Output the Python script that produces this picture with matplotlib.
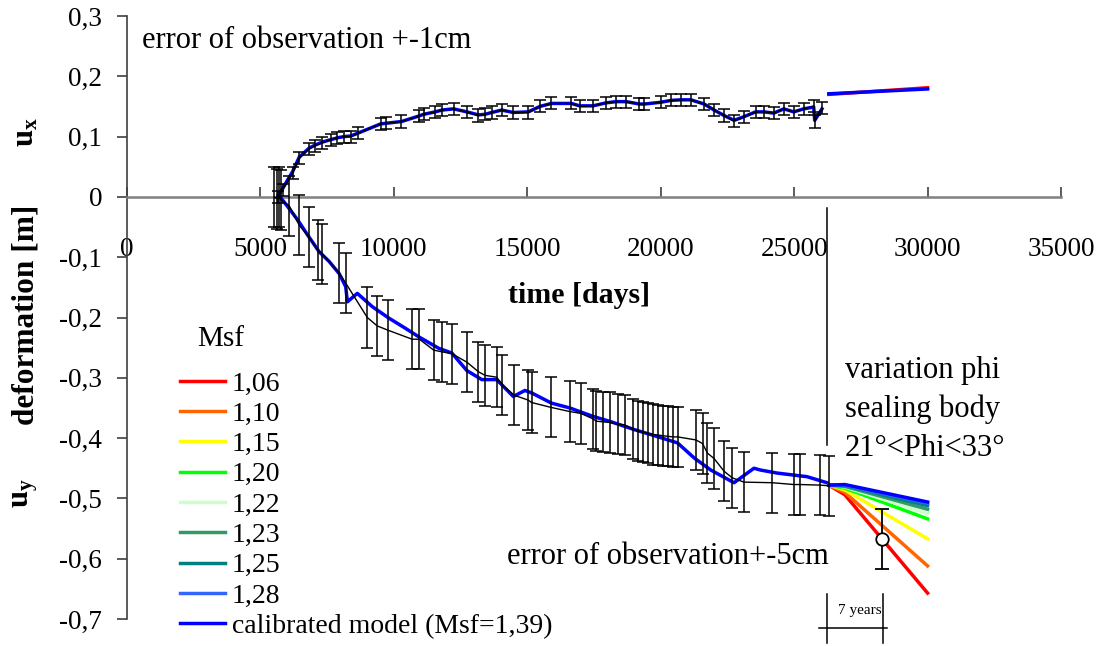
import matplotlib
matplotlib.use('Agg')
import matplotlib.pyplot as plt

plt.rcParams['font.family'] = ['Liberation Serif', 'DejaVu Serif']
plt.rcParams['mathtext.fontset'] = 'custom'
plt.rcParams['mathtext.rm'] = 'Liberation Serif'
plt.rcParams['mathtext.bf'] = 'Liberation Serif:bold'

# --- observed horizontal displacement u_x (error +-1cm)
ux_t = [5646, 5833, 6206, 6455, 6828, 7052, 7326, 7637, 7886, 8134, 8383, 8669, 9502, 9688,
        10286, 10932, 11118, 11553, 11802, 12238, 12735, 13170, 13419, 13668, 14041, 14476,
        15036, 15472, 15906, 16652, 16964, 17461, 17958, 18331, 18704, 19203, 19390, 20010,
        20383, 20756, 21129, 21629, 22002, 22375, 22748, 23121, 23555, 23867, 24240, 24613,
        24986, 25359, 25733, 25770, 26043]
ux_obs = [0.000, 0.012, 0.040, 0.064, 0.080, 0.085, 0.090, 0.095, 0.098, 0.100, 0.100, 0.106,
          0.121, 0.122, 0.125, 0.134, 0.137, 0.141, 0.144, 0.146, 0.141, 0.135, 0.137, 0.140,
          0.144, 0.140, 0.140, 0.150, 0.155, 0.155, 0.150, 0.151, 0.156, 0.158, 0.158, 0.154,
          0.154, 0.157, 0.160, 0.161, 0.161, 0.154, 0.144, 0.135, 0.126, 0.133, 0.141, 0.141,
          0.139, 0.146, 0.141, 0.146, 0.150, 0.125, 0.147]
ux_model = [0.000, 0.014, 0.042, 0.066, 0.081, 0.086, 0.091, 0.095, 0.098, 0.100, 0.101, 0.106,
            0.121, 0.122, 0.125, 0.134, 0.137, 0.141, 0.144, 0.146, 0.141, 0.136, 0.137, 0.140,
            0.144, 0.140, 0.141, 0.150, 0.155, 0.155, 0.151, 0.151, 0.156, 0.158, 0.158, 0.154,
            0.154, 0.157, 0.160, 0.161, 0.161, 0.154, 0.144, 0.135, 0.127, 0.133, 0.141, 0.141,
            0.139, 0.146, 0.141, 0.146, 0.149, 0.127, 0.146]

# --- observed vertical displacement u_y (error +-5cm)
uy_t = [5522, 5609, 5683, 5771, 6082, 6455, 6828, 7139, 7326, 7947, 8197, 9004, 9377, 9776,
        10683, 10957, 11491, 11802, 12175, 12735, 13170, 13419, 13854, 14066, 14514, 15036,
        15161, 15884, 16593, 17003, 17461, 17586, 17834, 18084, 18394, 18644, 18953, 19140,
        19327, 19513, 19700, 19886, 20073, 20259, 20446, 20632, 21317, 21566, 21752, 22002,
        22375, 22685, 23121, 24178, 24986, 25234, 25980, 26291]
uy_obs = [0.000, -0.003, 0.000, -0.005, -0.015, -0.047, -0.067, -0.088, -0.095, -0.126, -0.143,
          -0.200, -0.214, -0.221, -0.236, -0.236, -0.254, -0.257, -0.260, -0.274, -0.290, -0.296,
          -0.299, -0.312, -0.329, -0.337, -0.341, -0.349, -0.356, -0.359, -0.368, -0.372, -0.373,
          -0.374, -0.377, -0.378, -0.385, -0.388, -0.390, -0.392, -0.394, -0.395, -0.396, -0.397,
          -0.398, -0.398, -0.403, -0.409, -0.425, -0.434, -0.455, -0.466, -0.473, -0.474, -0.477,
          -0.477, -0.478, -0.479]

uy_model_t = [5683, 6020, 6393, 6766, 7201, 7574, 7947, 8197, 8258, 8631, 9191, 9813, 10436,
              10932, 11678, 12175, 12735, 13295, 13854, 14476, 14913, 15161, 15906, 16593,
              17461, 18145, 19016, 19762, 20632, 21256, 21877, 22748, 23494, 23741, 24364,
              25483, 26229]
uy_model = [0.003, -0.016, -0.038, -0.063, -0.091, -0.107, -0.127, -0.149, -0.174, -0.160,
            -0.182, -0.201, -0.218, -0.232, -0.251, -0.259, -0.288, -0.303, -0.303, -0.331,
            -0.321, -0.325, -0.342, -0.350, -0.364, -0.373, -0.386, -0.396, -0.408, -0.433,
            -0.453, -0.474, -0.450, -0.453, -0.458, -0.464, -0.474]

# --- forecasts for different Msf values
fc_t = [26300, 26900, 30000]
msf_labels = ['1,06', '1,10', '1,15', '1,20', '1,22', '1,23', '1,25', '1,28',
              'calibrated model (Msf=1,39)']
msf_colors = ['#ff0000', '#ff6600', '#ffff00', '#00ff00', '#ccffcc', '#339966',
              '#008080', '#3366ff', '#0000ff']
fc_uy = [[-0.478, -0.494, -0.657],
         [-0.478, -0.490, -0.612],
         [-0.478, -0.486, -0.567],
         [-0.478, -0.483, -0.534],
         [-0.478, -0.481, -0.525],
         [-0.478, -0.480, -0.518],
         [-0.478, -0.479, -0.512],
         [-0.478, -0.478, -0.508],
         [-0.478, -0.477, -0.506]]
fc_ux_t = [26300, 30000]
fc_ux_red = [0.170, 0.181]
fc_ux_blue = [0.171, 0.179]

check_t = 28284
check_uy = -0.567

yticks = [0.3, 0.2, 0.1, 0, -0.1, -0.2, -0.3, -0.4, -0.5, -0.6, -0.7]
ytick_labels = ['0,3', '0,2', '0,1', '0', '-0,1', '-0,2', '-0,3', '-0,4', '-0,5', '-0,6', '-0,7']
xticks = [0, 5000, 10000, 15000, 20000, 25000, 30000, 35000]

fig = plt.figure(figsize=(11.07, 6.46), dpi=100)
ax = fig.add_axes([127 / 1107, 27 / 646, 934 / 1107, 603 / 646])
ax.set_xlim(0, 35000)
ax.set_ylim(-0.7, 0.3)

# u_x
ax.plot(ux_t, ux_model, color='#0000ff', lw=2.5, zorder=3)
ax.errorbar(ux_t, ux_obs, yerr=0.01, color='black', lw=1.0, elinewidth=1.1,
            capsize=4, capthick=1.1, zorder=4)
ax.plot(fc_ux_t, fc_ux_red, color='#ff0000', lw=2.5, zorder=3)
ax.plot(fc_ux_t, fc_ux_blue, color='#0000ff', lw=2.5, zorder=3)

# u_y
ax.errorbar(uy_t, uy_obs, yerr=0.05, color='black', lw=1.0, elinewidth=1.1,
            capsize=4, capthick=1.1, zorder=4)
ax.plot(uy_model_t, uy_model, color='#0000ff', lw=2.5, zorder=3)
for lab, col, vals in zip(msf_labels, msf_colors, fc_uy):
    ax.plot(fc_t, vals, color=col, lw=2.5, label=lab, zorder=3)

ax.errorbar([check_t], [check_uy], yerr=0.05, fmt='o', ms=9, mfc='white', mec='black',
            mew=1.3, color='black', elinewidth=1.3, capsize=5, capthick=1.3, zorder=6)

# start of forecast marker
ax.plot([26230, 26230], [-0.018, -0.411], color='black', lw=1.1)

# 7 years bracket below the axis
ax.plot([26230, 26230], [-0.658, -0.739], color='black', lw=1.1, clip_on=False)
ax.plot([28320, 28320], [-0.658, -0.739], color='black', lw=1.1, clip_on=False)
ax.plot([25930, 28480], [-0.715, -0.715], color='black', lw=1.1, clip_on=False)
ax.text(27460, -0.686, '7 years', fontsize=11, ha='center', va='center')

# axes style
for s in ['top', 'right']:
    ax.spines[s].set_visible(False)
ax.spines['bottom'].set_position(('data', 0))
ax.spines['bottom'].set_color('#808080')
ax.spines['bottom'].set_linewidth(1.8)
ax.spines['left'].set_color('#404040')
ax.spines['left'].set_linewidth(1.2)
ax.set_xticks(xticks)
ax.set_xticklabels([str(v) for v in xticks])
ax.set_yticks(yticks)
ax.set_yticklabels(ytick_labels)
ax.tick_params(axis='x', direction='in', length=7, width=1.2, color='#404040',
               labelsize=19.5, pad=29)
ax.tick_params(axis='y', direction='out', length=7, width=1.2, color='#404040',
               labelsize=19.5, pad=11)

# texts
ax.text(560, 0.260, 'error of observation +-1cm', fontsize=22, va='center', ha='left')
ax.text(16940, -0.163, 'time [days]', fontsize=21.5, fontweight='bold', ha='center',
        va='center')
ax.text(26304, -0.597, 'error of observation+-5cm', fontsize=22, va='center', ha='right')
ax.text(26900, -0.288, 'variation phi', fontsize=22, va='center', ha='left')
ax.text(26900, -0.352, 'sealing body', fontsize=22, va='center', ha='left')
ax.text(26900, -0.417, '21°<Phi<33°', fontsize=22, va='center', ha='left')
ax.text(2640, -0.236, 'Msf', fontsize=21, va='center', ha='left')

fig.text(26 / 1107, 1 - 315 / 646, 'deformation [m]', fontsize=22.5, fontweight='bold',
         rotation=90, ha='center', va='center')
fig.text(26 / 1107, 1 - 132 / 646, r'$\mathbf{u_x}$', fontsize=22, rotation=90,
         ha='center', va='center')
fig.text(26 / 1107, 1 - 493 / 646, r'$\mathbf{u_y}$', fontsize=22, rotation=90,
         ha='center', va='center')

leg = ax.legend(loc='upper left', bbox_to_anchor=(180 / 1107, 1 - 371 / 646),
                bbox_transform=fig.transFigure, frameon=False, fontsize=20,
                handlelength=1.62, handletextpad=0.25, labelspacing=0.175,
                borderaxespad=0, borderpad=0)

fig.savefig('out.png', dpi=100)
